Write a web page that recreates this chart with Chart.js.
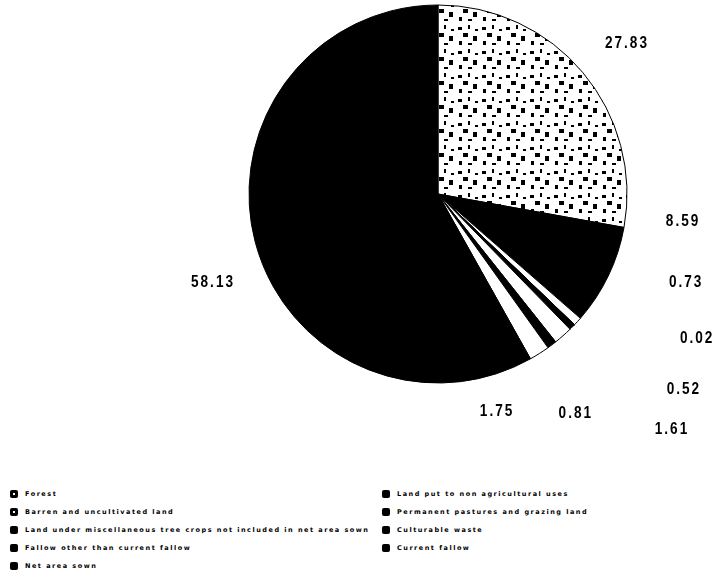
<!DOCTYPE html>
<html>
<head>
<meta charset="utf-8">
<script src="https://cdn.jsdelivr.net/npm/chart.js@4/dist/chart.umd.min.js"></script>
<style>
body{margin:0;background:#fff;}
#wrap{position:relative;width:715px;height:573px;}
#graf{position:absolute;left:0;top:0;}
#leyenda{position:absolute;left:10px;top:485px;display:grid;grid-template-columns:372px 320px;grid-auto-rows:18px;
  font-family:"DejaVu Sans";font-weight:bold;font-size:6.5px;letter-spacing:1.5px;color:#000;}
.item{display:flex;align-items:center;white-space:nowrap;}
.marca{width:8px;height:8px;border-radius:2px;background:#000;margin-right:7px;position:relative;flex:none;}
.marca.hueco::after{content:"";position:absolute;left:3px;top:3px;width:2px;height:2px;background:#fff;}
</style>
</head>
<body>
<div id="wrap">
  <canvas id="graf" width="715" height="480"></canvas>
  <div id="leyenda"></div>
</div>
<script>
// clases de uso del suelo (orden de la leyenda y de los sectores)
var categorias = ["Forest","Land put to non agricultural uses","Barren and uncultivated land","Permanent pastures and grazing land",
  "Land under miscellaneous tree crops not included in net area sown","Culturable waste","Fallow other than current fallow",
  "Current fallow","Net area sown"];
var valores = [27.83, 8.59, 0.73, 0.02, 0.52, 1.61, 0.81, 1.75, 58.13];

// donde va cada numero: [angulo desde arriba en grados, radio relativo]
var posEtiquetas = [[51.2,1.283],[96.1,1.304],[109.3,1.391],[118.9,1.566],[128.3,1.658],[135,1.751],[147.7,1.365],[164.7,1.185],[248.9,1.276]];

document.addEventListener("DOMContentLoaded",function(){
    graficaSuelo();
    leyenda();
})

function texturaBosque(ctx){
    var c = document.createElement("canvas");
    c.width = 24; c.height = 24;
    var g = c.getContext("2d");
    g.fillStyle = "#fff";
    g.fillRect(0,0,24,24);
    g.fillStyle = "#000";
    g.fillRect(2,3,4,3);
    g.fillRect(12,1,2,4);
    g.fillRect(7,9,5,4);
    g.fillRect(17,12,4,5);
    g.fillRect(3,17,3,4);
    g.fillRect(12,19,4,2);
    g.fillRect(19,5,3,2);
    return ctx.createPattern(c,"repeat");
}

var etiquetas = {
    id:"etiquetas",
    afterDraw:function(chart){
        var ctx = chart.ctx;
        var arcos = chart.getDatasetMeta(0).data;
        ctx.save();
        ctx.font = "bold 17px 'Liberation Sans'";
        ctx.letterSpacing = "2.5px";
        ctx.fillStyle = "#000";
        ctx.textAlign = "center";
        ctx.textBaseline = "middle";
        arcos.forEach(function(arco,i){
            var p = posEtiquetas[i];
            var ang = (p[0]-90)*Math.PI/180;
            var x = arco.x + Math.cos(ang)*arco.outerRadius*p[1];
            var y = arco.y + Math.sin(ang)*arco.outerRadius*p[1];
            ctx.save();
            ctx.translate(x,y);
            ctx.scale(0.8,1);
            ctx.fillText(valores[i].toFixed(2), 0, 1);
            ctx.restore();
        });
        ctx.restore();
    }
};

function graficaSuelo(){
    var miCanvas = document.getElementById("graf").getContext("2d");
    var colores = [texturaBosque(miCanvas),"#000","#fff","#000","#000","#fff","#000","#fff","#000"];

    var chart = new Chart(miCanvas,{
        type:"pie",
        data:{
            labels:categorias,
            datasets:[{
                data:valores,
                backgroundColor:colores,
                borderColor:"#000",
                borderWidth:1
            }]
        },
        options:{
            responsive:false,
            animation:false,
            radius:189,
            layout:{padding:{left:249,right:88,top:5,bottom:97}},
            plugins:{legend:{display:false},tooltip:{enabled:false}}
        },
        plugins:[etiquetas]
    });
}

function leyenda(){
    var cont = document.getElementById("leyenda");
    categorias.forEach(function(nombre,i){
        var item = document.createElement("div");
        item.className = "item";
        var marca = document.createElement("span");
        marca.className = (i==0 || i==2) ? "marca hueco" : "marca";
        var txt = document.createElement("span");
        txt.textContent = nombre;
        item.appendChild(marca);
        item.appendChild(txt);
        cont.appendChild(item);
    });
}
</script>
</body>
</html>
